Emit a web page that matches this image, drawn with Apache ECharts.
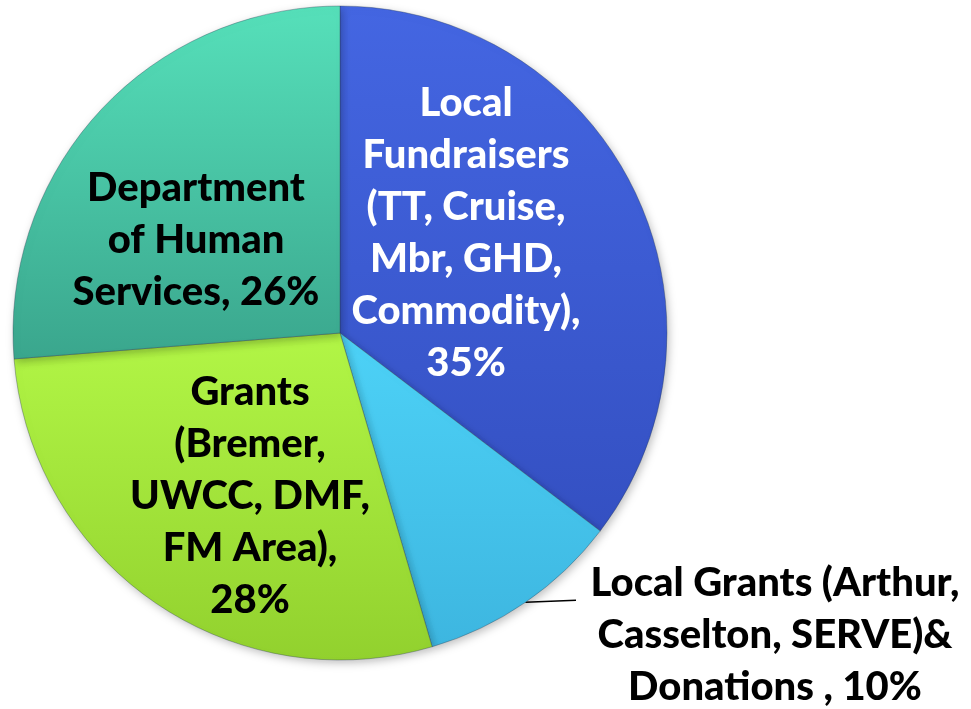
<!DOCTYPE html>
<html>
<head>
<meta charset="utf-8">
<script src="https://cdn.jsdelivr.net/npm/echarts@6/dist/echarts.min.js"></script>
<style>
  html, body { margin: 0; padding: 0; background: #fff; }
  #chart { width: 971px; height: 709px; }
</style>
</head>
<body>
<div id="chart"></div>
<script>
  // slices, clockwise from 12 o'clock
  var categories = [
    'Local\nFundraisers\n(TT, Cruise,\nMbr, GHD,\nCommodity)',
    'Local Grants (Arthur,\nCasselton, SERVE)&\nDonations',
    'Grants\n(Bremer,\nUWCC, DMF,\nFM Area)',
    'Department\nof Human\nServices'
  ]
  var values = [35, 10, 28, 26]
  var separators = [',\n', ' , ', ',\n', ', ']

  var colors = [
    ['#4466e2', '#3450c2'],
    ['#4dd2f7', '#3db6e0'],
    ['#b2f646', '#92d12e'],
    ['#56e0ba', '#3aa68d']
  ]
  var textColors = ['#ffffff', '#000000', '#000000', '#000000']

  // where each label block sits (centre of text)
  var labelSpots = [
    [466, 233],
    [775, 635],
    [250, 496],
    [196, 240]
  ]

  var chart = echarts.init(document.getElementById('chart'))

  var seriesData = categories.map(function (name, i) {
    return {
      name: name,
      value: values[i],
      itemStyle: {
        color: new echarts.graphic.LinearGradient(0, 0, 0, 1, [
          { offset: 0, color: colors[i][0] },
          { offset: 1, color: colors[i][1] }
        ])
      },
      label: {
        color: textColors[i],
        position: i === 1 ? 'outside' : 'inside'
      },
      labelLine: { show: i === 1 }
    }
  })

  chart.setOption({
    animation: false,
    series: [{
      type: 'pie',
      center: [340, 333],
      radius: 327,
      startAngle: 90,
      clockwise: true,
      avoidLabelOverlap: false,
      itemStyle: {
        borderColor: 'rgba(40,60,80,0.35)',
        borderWidth: 1,
        shadowBlur: 8,
        shadowColor: 'rgba(0,0,0,0.25)',
        shadowOffsetX: 2,
        shadowOffsetY: 3
      },
      label: {
        fontFamily: 'Lato',
        fontWeight: 900,
        fontSize: 40,
        lineHeight: 52,
        align: 'center',
        formatter: function (p) {
          return p.name + separators[p.dataIndex] + p.value + '%'
        }
      },
      labelLine: {
        length: 1,
        length2: 50,
        lineStyle: { color: '#000', width: 1.5 }
      },
      labelLayout: function (params) {
        var spot = labelSpots[params.dataIndex]
        var out = {
          x: spot[0],
          y: spot[1],
          align: 'center',
          verticalAlign: 'middle'
        }
        if (params.dataIndex === 1 && params.labelLinePoints) {
          var p0 = params.labelLinePoints[0]
          out.labelLinePoints = [p0, [576, p0[1] - 2]]
        }
        return out
      },
      data: seriesData
    }]
  })
</script>
</body>
</html>
